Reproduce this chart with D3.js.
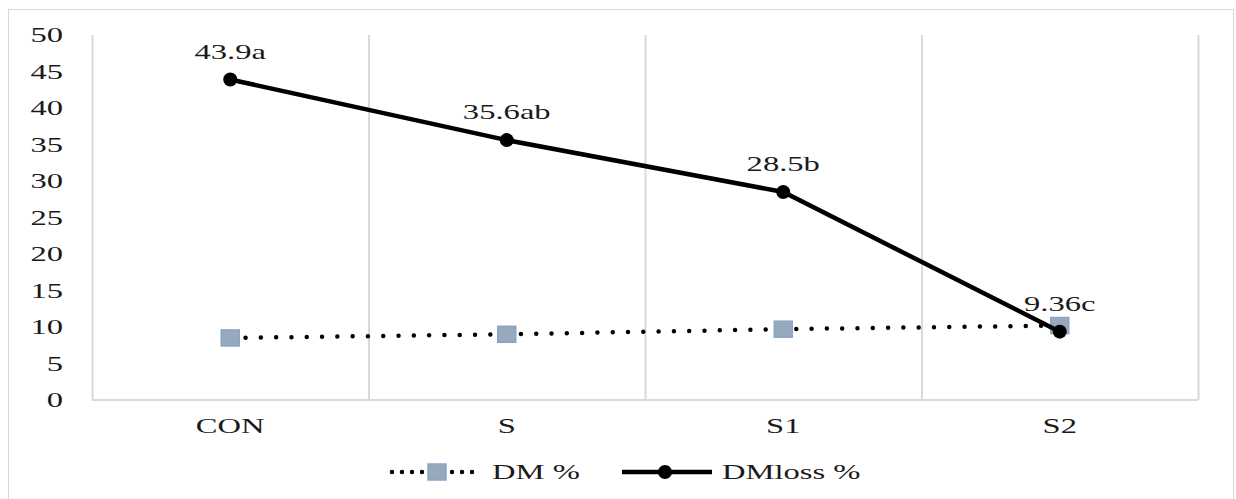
<!DOCTYPE html>
<html>
<head>
<meta charset="utf-8">
<script src="https://cdn.jsdelivr.net/npm/d3@7"></script>
<style>
  body { margin: 0; background: #fff; }
  svg { display: block; }
  text { font-family: "Times New Roman", Times, "Liberation Serif", "DejaVu Serif", serif; }
</style>
</head>
<body>
<svg id="chart" width="1236" height="499"></svg>
<script>
const categories = ['CON', 'S', 'S1', 'S2'];
const dmValues = [8.5, 9.0, 9.7, 10.2];
const dmLossValues = [43.9, 35.6, 28.5, 9.36];
const dmLossLabels = ['43.9a', '35.6ab', '28.5b', '9.36c'];
const yTicks = [0, 5, 10, 15, 20, 25, 30, 35, 40, 45, 50];

const svg = d3.select('#chart');

const width = 1236, height = 499;
const margin = {left: 92, right: 38, top: 35, bottom: 99};
const stretch = 1.63; // text in the picture is stretched wide

// text helper: stretched serif text at (x, y)
function label(g, x, y, txt, anchor) {
  return g.append('text')
    .attr('transform', `translate(${x},${y}) scale(${stretch},1)`)
    .attr('text-anchor', anchor || 'middle')
    .attr('font-size', 20)
    .attr('fill', '#1a1a1a')
    .text(txt);
}

// outer frame
svg.append('rect')
  .attr('x', 8.5).attr('y', 9.5)
  .attr('width', width - 11).attr('height', height)
  .attr('fill', 'none').attr('stroke', '#d9d9d9');

const x = d3.scaleBand().domain(categories)
  .range([margin.left, width - margin.right]);
const y = d3.scaleLinear().domain([0, 50])
  .range([height - margin.bottom, margin.top]);

const cx = d => x(d) + x.bandwidth() / 2;

// vertical grid lines between categories
const bounds = categories.map(d => x(d)).concat(x.range()[1]);
svg.append('g').selectAll('line').data(bounds).enter()
  .append('line')
  .attr('x1', d => d + 0.5).attr('x2', d => d + 0.5)
  .attr('y1', y(50)).attr('y2', y(0))
  .attr('stroke', '#d9d9d9').attr('stroke-width', 2);

// bottom axis line
svg.append('line')
  .attr('x1', x.range()[0]).attr('x2', x.range()[1])
  .attr('y1', y(0)).attr('y2', y(0))
  .attr('stroke', '#d9d9d9').attr('stroke-width', 2);

// y tick labels
const yAxisG = svg.append('g');
yTicks.forEach(t => label(yAxisG, 63, y(t) + 7, t, 'end'));

// x labels
const xAxisG = svg.append('g');
categories.forEach(c => label(xAxisG, cx(c), y(0) + 33, c));

// DM % dotted line
const seriesLine = d3.line()
  .x((d, i) => cx(categories[i]))
  .y(d => y(d));

svg.append('path')
  .datum(dmValues)
  .attr('d', seriesLine)
  .attr('fill', 'none')
  .attr('stroke', '#000')
  .attr('stroke-width', 4.5)
  .attr('stroke-linecap', 'round')
  .attr('stroke-dasharray', '0 15.3');

svg.append('g').selectAll('rect').data(dmValues).enter()
  .append('rect')
  .attr('x', (d, i) => cx(categories[i]) - 9)
  .attr('y', d => y(d) - 8)
  .attr('width', 18).attr('height', 16)
  .attr('fill', '#97a9bc')
  .attr('stroke', '#8aa5c4')
  .attr('stroke-width', 1.5);

// DMloss % solid line
svg.append('path')
  .datum(dmLossValues)
  .attr('d', seriesLine)
  .attr('fill', 'none')
  .attr('stroke', '#000')
  .attr('stroke-width', 4.5);

svg.append('g').selectAll('circle').data(dmLossValues).enter()
  .append('circle')
  .attr('cx', (d, i) => cx(categories[i]))
  .attr('cy', d => y(d))
  .attr('r', 7)
  .attr('fill', '#000');

const valueG = svg.append('g');
dmLossValues.forEach((v, i) =>
  label(valueG, cx(categories[i]), y(v) - 21, dmLossLabels[i]));

// legend
const legend = svg.append('g').attr('transform', 'translate(0,472)');

legend.append('line')
  .attr('x1', 392).attr('x2', 474).attr('y1', 0).attr('y2', 0)
  .attr('stroke', '#000').attr('stroke-width', 4.5)
  .attr('stroke-linecap', 'round')
  .attr('stroke-dasharray', '0 10');
legend.append('rect')
  .attr('x', 428).attr('y', -8).attr('width', 18).attr('height', 16)
  .attr('fill', '#97a9bc').attr('stroke', '#8aa5c4').attr('stroke-width', 1.5);
label(legend, 492, 7, 'DM %', 'start');

legend.append('line')
  .attr('x1', 622).attr('x2', 712).attr('y1', 0).attr('y2', 0)
  .attr('stroke', '#000').attr('stroke-width', 4.5);
legend.append('circle')
  .attr('cx', 665).attr('cy', 0).attr('r', 7).attr('fill', '#000');
label(legend, 722, 7, 'DMloss %', 'start');
</script>
</body>
</html>
